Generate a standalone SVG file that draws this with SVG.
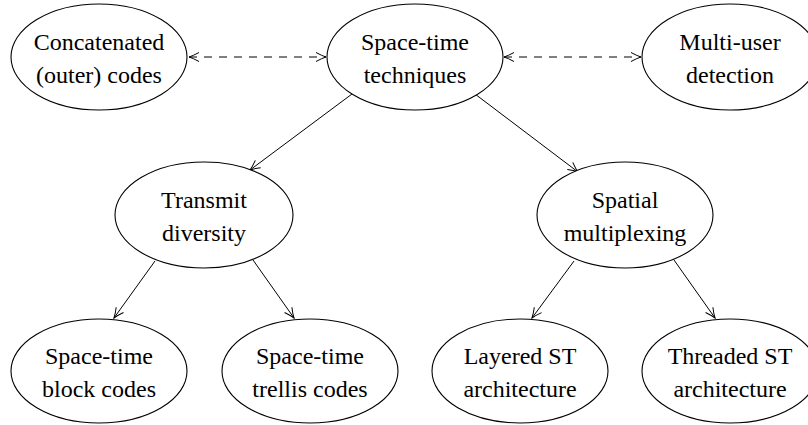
<svg xmlns="http://www.w3.org/2000/svg" width="808" height="425" viewBox="0 0 808 425">
  <style>
    .node ellipse { fill: #ffffff; stroke: #000000; stroke-width: 1.1; }
    .node text { font-family: 'Liberation Serif', 'Times New Roman', 'DejaVu Serif', serif; font-size: 24px; fill: #000000; text-anchor: middle; }
    .edge { stroke: #000000; stroke-width: 1; fill: none; }
    .dashed { stroke-dasharray: 8 7; }
  </style>
  <defs>
    <marker id="arrow" viewBox="-12 -6 14 12" refX="0" refY="0" markerWidth="14" markerHeight="12" markerUnits="userSpaceOnUse" orient="auto-start-reverse">
      <path d="M-10,-4.5 Q-4,-1.2 0,0 Q-4,1.2 -10,4.5" fill="none" stroke="#000000" stroke-width="1"/>
    </marker>
  </defs>

  <g id="connectors">
    <!-- bidirectional dashed links on the top row -->
    <line class="edge dashed" x1="189" y1="57" x2="326" y2="57" marker-start="url(#arrow)" marker-end="url(#arrow)"/>
    <line class="edge dashed" x1="504" y1="57" x2="641" y2="57" marker-start="url(#arrow)" marker-end="url(#arrow)"/>
    <!-- hierarchy arrows -->
    <line class="edge" x1="352" y1="94" x2="250" y2="170" marker-end="url(#arrow)"/>
    <line class="edge" x1="475" y1="94" x2="578" y2="172" marker-end="url(#arrow)"/>
    <line class="edge" x1="155" y1="261" x2="114" y2="318" marker-end="url(#arrow)"/>
    <line class="edge" x1="253" y1="260" x2="294" y2="318" marker-end="url(#arrow)"/>
    <line class="edge" x1="574" y1="261" x2="532" y2="318" marker-end="url(#arrow)"/>
    <line class="edge" x1="674" y1="260" x2="715" y2="318" marker-end="url(#arrow)"/>
  </g>

  <g font-family="Liberation Serif, serif">
  <g id="concatenated-codes" class="node">
    <ellipse cx="99" cy="57" rx="88" ry="53"/>
    <text x="99" y="50">Concatenated</text>
    <text x="99" y="83">(outer) codes</text>
  </g>

  <g id="space-time-techniques" class="node">
    <ellipse cx="415" cy="57" rx="88" ry="53"/>
    <text x="415" y="50">Space-time</text>
    <text x="415" y="83">techniques</text>
  </g>

  <g id="multi-user-detection" class="node">
    <ellipse cx="730" cy="57" rx="88" ry="53"/>
    <text x="730" y="50">Multi-user</text>
    <text x="730" y="83">detection</text>
  </g>

  <g id="transmit-diversity" class="node">
    <ellipse cx="204" cy="215" rx="89" ry="53"/>
    <text x="204" y="208">Transmit</text>
    <text x="204" y="241">diversity</text>
  </g>

  <g id="spatial-multiplexing" class="node">
    <ellipse cx="625" cy="215" rx="88" ry="53"/>
    <text x="625" y="208">Spatial</text>
    <text x="625" y="241">multiplexing</text>
  </g>

  <g id="st-block-codes" class="node">
    <ellipse cx="99" cy="371" rx="88" ry="52"/>
    <text x="99" y="364">Space-time</text>
    <text x="99" y="397">block codes</text>
  </g>

  <g id="st-trellis-codes" class="node">
    <ellipse cx="310" cy="371" rx="88" ry="52"/>
    <text x="310" y="364">Space-time</text>
    <text x="310" y="397">trellis codes</text>
  </g>

  <g id="layered-st" class="node">
    <ellipse cx="520" cy="371" rx="88" ry="52"/>
    <text x="520" y="364">Layered ST</text>
    <text x="520" y="397">architecture</text>
  </g>

  <g id="threaded-st" class="node">
    <ellipse cx="730" cy="371" rx="88" ry="52"/>
    <text x="730" y="364">Threaded ST</text>
    <text x="730" y="397">architecture</text>
  </g>
  </g>
</svg>
